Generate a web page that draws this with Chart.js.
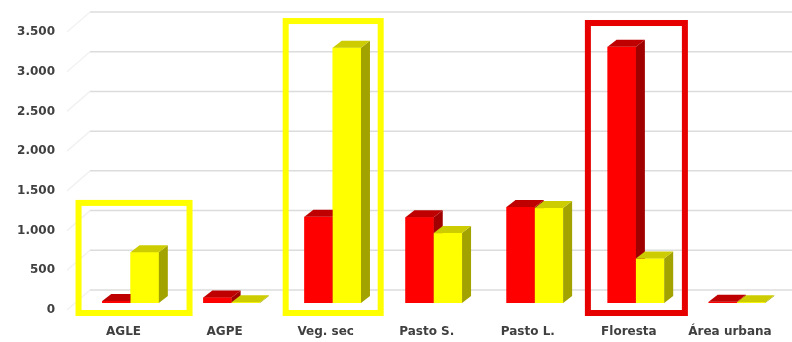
<!DOCTYPE html>
<html>
<head>
<meta charset="utf-8">
<script src="https://cdn.jsdelivr.net/npm/chart.js@4/dist/chart.umd.min.js"></script>
<style>
  html, body { margin: 0; padding: 0; background: #ffffff; }
  #wrap { width: 792px; height: 342px; position: relative; }
</style>
</head>
<body>
<div id="wrap"><canvas id="grafico"></canvas></div>
<script>
// Uso do solo por classe (duas datas)
const categorias = ['AGLE', 'AGPE', 'Veg. sec', 'Pasto S.', 'Pasto L.', 'Floresta', 'Área urbana'];
const serieVermelha = [25, 70, 1085, 1080, 1210, 3225, 15];
const serieAmarela  = [640, 8, 3215, 880, 1195, 560, 10];
const ticksY = [0, 500, 1000, 1500, 2000, 2500, 3000, 3500];

// Cores das faces de cada série (frente, lado, topo)
const facesVermelha = { front: '#ff0000', side: '#a10000', top: '#bf0000' };
const facesAmarela  = { front: '#ffff00', side: '#a3a300', top: '#cccc00' };

// Profundidade do efeito 3D das colunas e das paredes
const PROF_X = 9, PROF_Y = 7;
const PAREDE_X = 10, PAREDE_Y = 13;

// Quadros de destaque em torno de algumas classes
const destaques = [
  { indice: 0, cor: '#ffff00', topo: 1260, esq: 52, dir: 59 },
  { indice: 2, cor: '#ffff00', topo: 3550, esq: 47, dir: 48 },
  { indice: 5, cor: '#e60000', topo: 3525, esq: 48, dir: 49 }
];

function formatarMilhar(v) {
  return String(v).replace(/\B(?=(\d{3})+(?!\d))/g, '.');
}

function poligono(ctx, pts) {
  ctx.beginPath();
  ctx.moveTo(pts[0][0], pts[0][1]);
  for (let i = 1; i < pts.length; i++) ctx.lineTo(pts[i][0], pts[i][1]);
  ctx.closePath();
  ctx.fill();
}

// Linhas de grade na parede do fundo e na parede lateral
const gradeParede = {
  id: 'gradeParede',
  beforeDatasetsDraw(chart) {
    const { ctx, chartArea } = chart;
    const y = chart.scales.y;
    ctx.save();
    ticksY.forEach(v => {
      const py = y.getPixelForValue(v);
      ctx.strokeStyle = '#f2f2f2';
      ctx.lineWidth = 1.5;
      ctx.beginPath();
      ctx.moveTo(chartArea.left - 13, py + 7);
      ctx.lineTo(chartArea.left + PAREDE_X, py - PAREDE_Y);
      ctx.stroke();
      ctx.strokeStyle = '#dcdcdc';
      ctx.beginPath();
      ctx.moveTo(chartArea.left + PAREDE_X, py - PAREDE_Y);
      ctx.lineTo(chart.width, py - PAREDE_Y);
      ctx.stroke();
    });
    ctx.restore();
  }
};

// Colunas com faces lateral e superior
const colunas3d = {
  id: 'colunas3d',
  afterDatasetsDraw(chart) {
    const ctx = chart.ctx;
    const metas = chart.data.datasets.map((_, i) => chart.getDatasetMeta(i));
    ctx.save();
    for (let j = 0; j < categorias.length; j++) {
      metas.forEach((meta, di) => {
        const el = meta.data[j];
        const { x, y, base, width } = el.getProps(['x', 'y', 'base', 'width'], true);
        const f = chart.data.datasets[di].faces;
        const l = x - width / 2, r = x + width / 2;
        ctx.fillStyle = f.front;
        ctx.fillRect(l, y, width, base - y);
        ctx.fillStyle = f.side;
        poligono(ctx, [[r, y], [r + PROF_X, y - PROF_Y], [r + PROF_X, base - PROF_Y], [r, base]]);
        ctx.fillStyle = f.top;
        poligono(ctx, [[l, y], [l + PROF_X, y - PROF_Y], [r + PROF_X, y - PROF_Y], [r, y]]);
      });
    }
    // quadros de destaque
    const xs = chart.scales.x, ys = chart.scales.y;
    ctx.lineWidth = 6;
    destaques.forEach(d => {
      const cx = xs.getPixelForValue(d.indice);
      const topo = ys.getPixelForValue(d.topo);
      const fundo = ys.getPixelForValue(0) + 10;
      ctx.strokeStyle = d.cor;
      ctx.strokeRect(cx - d.esq, topo, d.esq + d.dir, fundo - topo);
    });
    ctx.restore();
  }
};

Chart.defaults.font.family = '"DejaVu Sans", sans-serif';

new Chart(document.getElementById('grafico'), {
  type: 'bar',
  data: {
    labels: categorias,
    datasets: [
      { label: 'Data 1', data: serieVermelha, backgroundColor: facesVermelha.front, faces: facesVermelha, borderWidth: 0 },
      { label: 'Data 2', data: serieAmarela, backgroundColor: facesAmarela.front, faces: facesAmarela, borderWidth: 0 }
    ]
  },
  options: {
    responsive: true,
    maintainAspectRatio: false,
    animation: false,
    layout: { padding: { top: 25, right: 4.5, bottom: 0, left: 0 } },
    categoryPercentage: 0.56,
    barPercentage: 1.0,
    plugins: { legend: { display: false }, tooltip: { enabled: false } },
    scales: {
      x: {
        grid: { display: false, drawTicks: false },
        border: { display: false },
        afterFit(scale) {
          scale.height = 39;
          scale.paddingLeft = 0;
          scale.paddingRight = 0;
        },
        ticks: {
          padding: 22,
          labelOffset: -7,
          color: '#404040',
          font: { size: 12, weight: 'bold' }
        }
      },
      y: {
        min: 0,
        max: 3500,
        grid: { display: false, drawTicks: false },
        border: { display: false },
        afterFit(scale) {
          scale.width = 80;
          scale.paddingTop = 0;
          scale.paddingBottom = 0;
        },
        afterBuildTicks(scale) { scale.ticks = ticksY.map(v => ({ value: v })); },
        ticks: {
          padding: 25,
          labelOffset: 7,
          color: '#404040',
          font: { size: 12, weight: 'bold' },
          callback: v => formatarMilhar(v)
        }
      }
    }
  },
  plugins: [gradeParede, colunas3d]
});
</script>
</body>
</html>
